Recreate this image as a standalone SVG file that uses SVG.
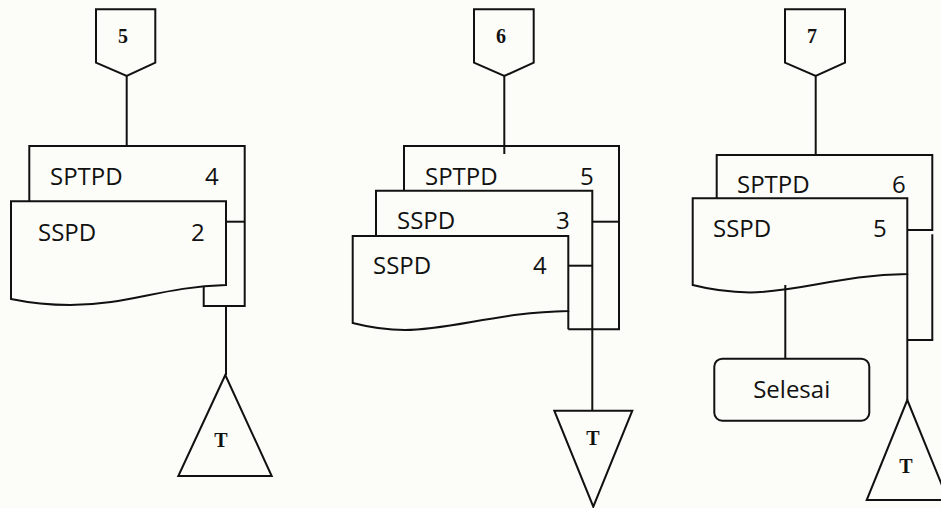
<svg xmlns="http://www.w3.org/2000/svg" width="941" height="508" viewBox="0 0 941 508">
  <style>
    .ln { fill: none; stroke: #111; stroke-width: 2; stroke-linejoin: miter; }
    .sh { fill: #fcfdf8; stroke: #111; stroke-width: 2; }
    .lbl { font-family: "Open Sans", "Noto Sans", sans-serif; font-size: 24px; fill: #111; }
    .ref { font-family: "Liberation Serif", "DejaVu Serif", serif; font-size: 20px; font-weight: bold; fill: #111; text-anchor: middle; }
  </style>
  <rect width="941" height="508" fill="#fcfdf8"/>

  <!-- column 1 -->
  <g id="conn5">
    <path class="sh" d="M96,9.3 H155.3 V62.7 L126.7,76 L96,62.7 Z"/>
    <text class="ref" x="123" y="43">5</text>
  </g>
  <g id="doc-sptpd-4">
    <polyline class="ln" points="29.3,201.3 29.3,146 244.7,146 244.7,306 203.7,306 203.7,285"/>
    <line class="ln" x1="226" y1="221.7" x2="244.7" y2="221.7"/>
    <text class="lbl" x="50" y="185">SPTPD</text>
    <text class="lbl" x="205" y="185">4</text>
  </g>
  <g id="doc-sspd-2">
    <path class="sh" d="M11,201.3 H226 V285 C160,287 130,305 70,305 Q40,305 11,299 Z"/>
    <text class="lbl" x="38" y="241">SSPD</text>
    <text class="lbl" x="191" y="241">2</text>
  </g>
  <g id="arsip-t1">
    <path class="sh" d="M225.3,375 L271.7,476 L178.3,476 Z"/>
    <text class="ref" x="221" y="447">T</text>
  </g>

  <!-- column 2 -->
  <g id="conn6">
    <path class="sh" d="M474,9.3 H533.7 V62.7 L504.3,76 L474,62.7 Z"/>
    <text class="ref" x="501" y="43">6</text>
  </g>
  <g id="doc-sptpd-5">
    <polyline class="ln" points="404,190.7 404,146 619,146 619,329.3 568.3,329.3"/>
    <line class="ln" x1="592.3" y1="221.7" x2="619" y2="221.7"/>
    <text class="lbl" x="425" y="185">SPTPD</text>
    <text class="lbl" x="580" y="185">5</text>
  </g>
  <g id="doc-sspd-3">
    <polyline class="ln" points="376,236 376,190.7 592.3,190.7 592.3,329.3"/>
    <line class="ln" x1="568.3" y1="265.7" x2="592.3" y2="265.7"/>
    <text class="lbl" x="397" y="229">SSPD</text>
    <text class="lbl" x="556" y="229">3</text>
  </g>
  <g id="doc-sspd-4">
    <path class="sh" d="M352.7,236 H568.3 V311 C500,312 450,330 405,330 Q380,330 352.7,323 Z"/>
    <line class="ln" x1="568.3" y1="311" x2="568.3" y2="329.3"/>
    <text class="lbl" x="373" y="274">SSPD</text>
    <text class="lbl" x="533" y="274">4</text>
  </g>
  <g id="arsip-t2">
    <path class="sh" d="M554.3,410.7 H632.3 L593.3,506.7 Z"/>
    <text class="ref" x="593" y="445">T</text>
  </g>

  <!-- column 3 -->
  <g id="conn7">
    <path class="sh" d="M785,9.3 H845 V62.7 L815.7,76 L785,62.7 Z"/>
    <text class="ref" x="812" y="43">7</text>
  </g>
  <g id="doc-sptpd-6">
    <polyline class="ln" points="716.7,198.3 716.7,155 932.3,155 932.3,230 907.3,230"/>
    <text class="lbl" x="737" y="193">SPTPD</text>
    <text class="lbl" x="892" y="193">6</text>
  </g>
  <g id="doc-sspd-5">
    <path class="sh" d="M692.7,198.3 H907.3 V274 C840,275 800,292 750,292.5 Q720,292 692.7,285 Z"/>
    <text class="lbl" x="713" y="237">SSPD</text>
    <text class="lbl" x="873" y="237">5</text>
  </g>
  <g id="selesai">
    <rect class="sh" x="714.3" y="358.7" width="155" height="62" rx="8"/>
    <text class="lbl" x="791.7" y="398" text-anchor="middle">Selesai</text>
  </g>
  <g id="arsip-t3">
    <path class="sh" d="M907.3,400 L948,500 L866.7,500 Z"/>
    <text class="ref" x="906" y="473">T</text>
  </g>

  <!-- connectors -->
  <g id="connectors">
    <line class="ln" x1="126.7" y1="76" x2="126.7" y2="146"/>
    <line class="ln" x1="226" y1="306" x2="226" y2="375"/>
    <line class="ln" x1="504.3" y1="76" x2="504.3" y2="154"/>
    <line class="ln" x1="592.3" y1="329.3" x2="592.3" y2="410.7"/>
    <line class="ln" x1="815.7" y1="76" x2="815.7" y2="155"/>
    <line class="ln" x1="907.3" y1="274" x2="907.3" y2="400"/>
    <polyline class="ln" points="932.3,234.3 932.3,340 907.3,340"/>
    <line class="ln" x1="785.3" y1="285" x2="785.3" y2="358.7"/>
  </g>
</svg>
